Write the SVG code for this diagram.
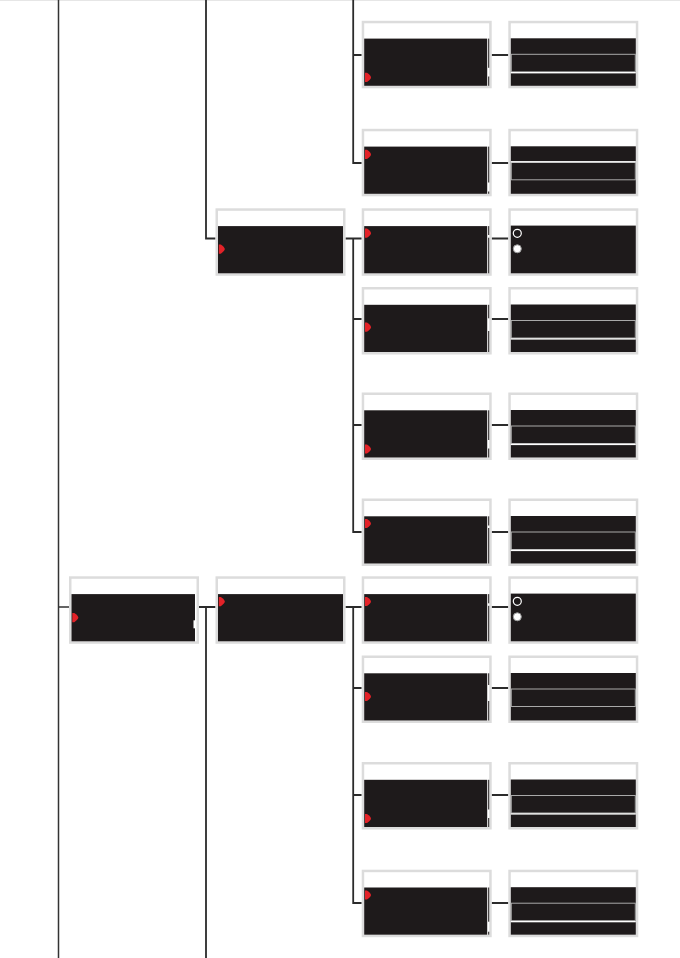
<svg xmlns="http://www.w3.org/2000/svg" xmlns:xlink="http://www.w3.org/1999/xlink" width="680" height="958" viewBox="0 0 680 958">
<style>
.frame-o{fill:#dcdcdc}
.frame-i{fill:#ffffff}
.body{fill:#1e1a1b}
.sb{fill:#1e1a1b}
.sel{fill:none;stroke:#a9a9a9;stroke-width:1}
.gap{fill:#ffffff}
.ptr{fill:#e32228}
.wire{fill:none;stroke:#2b2b2b;stroke-width:1.8;stroke-linejoin:miter;stroke-linecap:butt}
.wire-thin{fill:none;stroke:#333;stroke-width:1.5}
.rad1{fill:none;stroke:#ffffff;stroke-width:1.2}
.rad2{fill:#ffffff;stroke:#9a9a9a;stroke-width:1}
</style>
<defs>
<g id="frame"><rect class="frame-o" x="0" y="0" width="130" height="67.5"/><rect class="frame-i" x="2.5" y="2.5" width="125" height="62.5"/></g>
<path id="ptr" class="ptr" d="M0,-4.6 L2,-4.6 Q6,-1.8 6,0 Q6,1.8 2,4.6 L0,4.6 Z"/>
<g id="cbody"><rect class="body" x="2.5" y="17.8" width="123" height="47.2"/></g>
<g id="dlist"><rect class="body" x="2.5" y="17.5" width="125" height="47.5"/><rect class="sel" x="3" y="33.5" width="124" height="17.5"/></g>
<g id="dradio"><rect class="body" x="2.5" y="17.3" width="125" height="47.7"/><circle class="rad1" cx="9" cy="25" r="4"/><circle class="rad2" cx="9" cy="40.5" r="4"/></g>
</defs>
<rect x="0" y="0" width="680" height="958" fill="#ffffff"/>
<rect x="0" y="0" width="680" height="1" fill="#e6e6e6"/>

<g id="connectors">
<path class="wire-thin" d="M58.5,0 V958 M58.5,607 H69"/>
<path class="wire" d="M206,0 V238.5 H215.5"/>
<path class="wire" d="M198,607 H215.5 M206,607 V958"/>
<path class="wire" d="M353.2,0 V163 H361.7 M353.2,55 H361.7"/>
<path class="wire" d="M345.5,238.5 H361.7 M353.2,238.5 V532 H361.7 M353.2,319 H361.7 M353.2,425 H361.7"/>
<path class="wire" d="M345.5,607 H361.7 M353.2,607 V903 H361.7 M353.2,688 H361.7 M353.2,795 H361.7"/>
<path class="wire" d="M491.7,55 H508.3 M491.7,163 H508.3 M491.7,238.5 H508.3 M491.7,319 H508.3 M491.7,425 H508.3 M491.7,532 H508.3 M491.7,607 H508.3 M491.7,688 H508.3 M491.7,795 H508.3 M491.7,903 H508.3"/>
</g>

<g id="a1" transform="translate(69,576.3)">
<use href="#frame"/>
<rect class="body" x="2.5" y="17.8" width="123.5" height="47.2"/>
<rect class="gap" x="124.5" y="44" width="1.5" height="8"/>
<use href="#ptr" x="3.3" y="41.3"/>
</g>

<g id="b1" transform="translate(215.5,208.3)">
<use href="#frame"/>
<rect class="body" x="2.5" y="17.8" width="125" height="47.2"/>
<use href="#ptr" x="3.3" y="40.8"/>
</g>

<g id="b2" transform="translate(215.5,576.3)">
<use href="#frame"/>
<rect class="body" x="2.5" y="17.8" width="125" height="47.2"/>
<use href="#ptr" x="3.3" y="25.3"/>
</g>

<g id="c1" transform="translate(361.7,20.8)">
<use href="#frame"/><use href="#cbody"/>
<rect class="sb" x="126.5" y="17.8" width="1" height="29.2"/><rect class="sb" x="126.5" y="55.7" width="1" height="9.3"/>
<use href="#ptr" x="3.3" y="56.6"/>
</g>

<g id="c2" transform="translate(361.7,128.8)">
<use href="#frame"/><use href="#cbody"/>
<rect class="sb" x="126.5" y="17.8" width="1" height="35.9"/><rect class="sb" x="126.5" y="62.7" width="1" height="2.3"/>
<use href="#ptr" x="3.3" y="25.6"/>
</g>

<g id="c3" transform="translate(361.7,208.3)">
<use href="#frame"/><use href="#cbody"/>
<rect class="sb" x="126.5" y="17.8" width="1" height="8.9"/><rect class="sb" x="126.5" y="29.4" width="1" height="35.6"/>
<use href="#ptr" x="3.3" y="24.9"/>
</g>

<g id="c4" transform="translate(361.7,287)">
<use href="#frame"/><use href="#cbody"/>
<rect class="sb" x="126.5" y="17.8" width="1" height="13.5"/><rect class="sb" x="126.5" y="44" width="1" height="21"/>
<use href="#ptr" x="3.3" y="40.2"/>
</g>

<g id="c5" transform="translate(361.7,392.5)">
<use href="#frame"/><use href="#cbody"/>
<rect class="sb" x="126.5" y="17.8" width="1" height="29.7"/><rect class="sb" x="126.5" y="56" width="1" height="9"/>
<use href="#ptr" x="3.3" y="56.5"/>
</g>

<g id="c6" transform="translate(361.7,498.5)">
<use href="#frame"/><use href="#cbody"/>
<rect class="sb" x="126.5" y="17.8" width="1" height="9.2"/><rect class="sb" x="126.5" y="29.5" width="1" height="35.5"/>
<use href="#ptr" x="3.3" y="25"/>
</g>

<g id="c7" transform="translate(361.7,576.3)">
<use href="#frame"/><use href="#cbody"/>
<rect class="sb" x="126.5" y="17.8" width="1" height="9.2"/><rect class="sb" x="126.5" y="29.5" width="1" height="35.5"/>
<use href="#ptr" x="3.3" y="25.2"/>
</g>

<g id="c8" transform="translate(361.7,655.5)">
<use href="#frame"/><use href="#cbody"/>
<rect class="sb" x="126.5" y="17.8" width="1" height="11.7"/><rect class="sb" x="126.5" y="45.5" width="1" height="19.5"/>
<use href="#ptr" x="3.3" y="41"/>
</g>

<g id="c9" transform="translate(361.7,762)">
<use href="#frame"/><use href="#cbody"/>
<rect class="sb" x="126.5" y="17.8" width="1" height="29.7"/><rect class="sb" x="126.5" y="56" width="1" height="9"/>
<use href="#ptr" x="3.3" y="56.5"/>
</g>

<g id="c10" transform="translate(361.7,869.7)">
<use href="#frame"/><use href="#cbody"/>
<rect class="sb" x="126.5" y="17.8" width="1" height="34.2"/><rect class="sb" x="126.5" y="62" width="1" height="3"/>
<use href="#ptr" x="3.3" y="25.3"/>
</g>

<g id="d1" transform="translate(508.3,20.8)">
<use href="#frame"/><use href="#dlist"/>
<rect class="gap" x="2.5" y="51.2" width="125" height="1.4"/>
</g>

<g id="d2" transform="translate(508.3,128.8)">
<use href="#frame"/><use href="#dlist"/>
<rect class="gap" x="2.5" y="32.3" width="125" height="1.4"/>
</g>

<g id="d3" transform="translate(508.3,208.3)">
<use href="#frame"/><use href="#dradio"/>
</g>

<g id="d4" transform="translate(508.3,287)">
<use href="#frame"/><use href="#dlist"/>
<rect class="gap" x="2.5" y="51.2" width="125" height="1.4"/>
</g>

<g id="d5" transform="translate(508.3,392.5)">
<use href="#frame"/><use href="#dlist"/>
<rect class="gap" x="2.5" y="51.2" width="125" height="1.4"/>
</g>

<g id="d6" transform="translate(508.3,498.5)">
<use href="#frame"/><use href="#dlist"/>
<rect class="gap" x="2.5" y="51.2" width="125" height="1.4"/>
</g>

<g id="d7" transform="translate(508.3,576.3)">
<use href="#frame"/><use href="#dradio"/>
</g>

<g id="d8" transform="translate(508.3,655.5)">
<use href="#frame"/><use href="#dlist"/>
</g>

<g id="d9" transform="translate(508.3,762)">
<use href="#frame"/><use href="#dlist"/>
<rect class="gap" x="2.5" y="51.2" width="125" height="1.4"/>
</g>

<g id="d10" transform="translate(508.3,869.7)">
<use href="#frame"/><use href="#dlist"/>
<rect class="gap" x="2.5" y="51.2" width="125" height="1.4"/>
</g>
</svg>
